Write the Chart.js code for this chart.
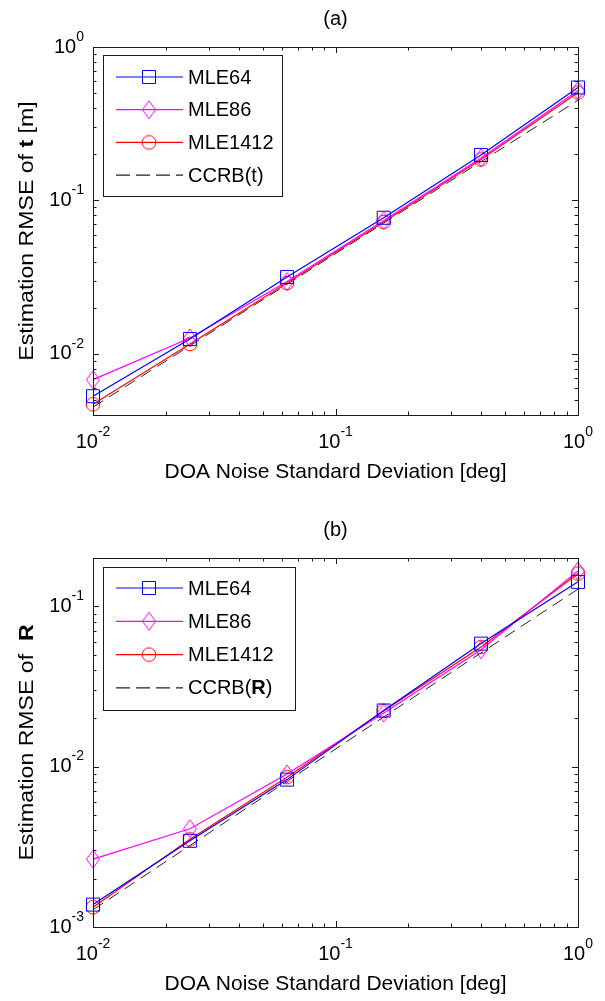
<!DOCTYPE html>
<html><head><meta charset="utf-8">
<script src="https://cdn.jsdelivr.net/npm/chart.js@4.4.0/dist/chart.umd.min.js"></script>
<style>
html,body{margin:0;padding:0;background:#fff;}
#wrap{position:relative;width:605px;height:1001px;background:#fff;}
canvas{position:absolute;left:0;}
</style></head><body>
<div id="wrap">
<canvas id="ca" width="605" height="500" style="top:0px"></canvas>
<canvas id="cb" width="605" height="501" style="top:500px"></canvas>
</div>
<script>
// ---- data ----
const sigma = [0.01, 0.0251, 0.0631, 0.158, 0.398, 1];
const seriesNames = ['MLE64', 'MLE86', 'MLE1412'];
const xMajorTicks = [0.01, 0.1, 1];
const xTickExp = ['-2', '-1', '0'];

const a_MLE64   = [0.0053, 0.0125, 0.0317, 0.0772, 0.198, 0.545];
const a_MLE86   = [0.0068, 0.0127, 0.0296, 0.0740, 0.189, 0.520];
const a_MLE1412 = [0.0047, 0.0116, 0.0290, 0.0725, 0.185, 0.505];
const a_CCRB    = [0.0045, 0.0113, 0.0284, 0.0712, 0.179, 0.450];
const a_yMajorTicks = [1, 0.1, 0.01];
const a_yTickExp = ['0', '-1', '-2'];

const b_MLE64   = [0.00138, 0.00345, 0.0083, 0.0224, 0.0585, 0.142];
const b_MLE86   = [0.00265, 0.00410, 0.0090, 0.0216, 0.0535, 0.166];
const b_MLE1412 = [0.00133, 0.00352, 0.0086, 0.0223, 0.0558, 0.160];
const b_CCRB    = [0.00128, 0.00322, 0.0081, 0.0204, 0.0512, 0.128];
const b_yMajorTicks = [0.1, 0.01, 0.001];
const b_yTickExp = ['-1', '-2', '-3'];

const xTitle = 'DOA Noise Standard Deviation [deg]';

// ---- styles ----
const FONT = '"Liberation Sans", Arial, sans-serif';
const COLORS = { MLE64: '#0000ff', MLE86: '#ff00ff', MLE1412: '#ff0000', CCRB: '#222222' };

function markerCanvas(kind, color) {
  const c = document.createElement('canvas');
  c.width = 20; c.height = 22;
  const g = c.getContext('2d');
  g.strokeStyle = color; g.lineWidth = 1;
  g.beginPath();
  if (kind === 'square') g.rect(3.5, 4.5, 13, 13);
  else if (kind === 'circle') g.arc(10, 11, 6.8, 0, Math.PI * 2);
  else { g.moveTo(10, 2); g.lineTo(16.5, 11); g.lineTo(10, 20); g.lineTo(3.5, 11); g.closePath(); }
  g.stroke();
  return c;
}
const MARKERS = {
  MLE64: markerCanvas('square', COLORS.MLE64),
  MLE86: markerCanvas('diamond', COLORS.MLE86),
  MLE1412: markerCanvas('circle', COLORS.MLE1412)
};

function pts(vals) { return sigma.map((s, i) => ({ x: s, y: vals[i] })); }

function datasets(m64, m86, m1412, ccrb) {
  const mk = (name, vals) => ({
    label: name, data: pts(vals), borderColor: COLORS[name], backgroundColor: 'transparent',
    borderWidth: 1.2, pointStyle: MARKERS[name], pointRadius: 7, pointHoverRadius: 7,
    tension: 0, fill: false, clip: false
  });
  return [
    mk('MLE64', m64), mk('MLE86', m86), mk('MLE1412', m1412),
    { label: 'CCRB', data: pts(ccrb), borderColor: COLORS.CCRB, borderWidth: 1,
      borderDash: [12, 7], pointRadius: 0, tension: 0, fill: false, clip: false }
  ];
}

function drawPow(ctx, e, x, y, align) {
  const baseFont = '20px ' + FONT, expFont = '14px ' + FONT;
  ctx.font = baseFont; const wb = ctx.measureText('10').width;
  ctx.font = expFont; const we = ctx.measureText(e).width;
  const left = align === 'right' ? x - wb - we : x - (wb + we) / 2;
  ctx.textAlign = 'left'; ctx.textBaseline = 'middle'; ctx.fillStyle = '#000';
  ctx.font = baseFont; ctx.fillText('10', left, y);
  ctx.font = expFont; ctx.fillText(e, left + wb, y - 10);
}

function drawRuns(ctx, runs) {
  let x = 0;
  runs.forEach(r => {
    ctx.font = (r.bold ? 'bold ' : '') + r.size + 'px ' + FONT;
    ctx.fillText(r.t, x, 0);
    x += ctx.measureText(r.t).width;
  });
  return x;
}
function runsWidth(ctx, runs) {
  let w = 0;
  runs.forEach(r => { ctx.font = (r.bold ? 'bold ' : '') + r.size + 'px ' + FONT; w += ctx.measureText(r.t).width; });
  return w;
}

function decoPlugin(cfg) {
  return {
    id: 'deco',
    afterDatasetsDraw(chart) {
      const ctx = chart.ctx, a = chart.chartArea, xs = chart.scales.x, ys = chart.scales.y;
      ctx.save();
      ctx.strokeStyle = '#1a1a1a'; ctx.lineWidth = 1;
      const majL = 6, minL = 3.5;
      function logTicks(lo, hi) {
        const out = [];
        for (let k = Math.floor(Math.log10(lo)) - 1; k <= Math.ceil(Math.log10(hi)); k++) {
          for (let m = 1; m <= 9; m++) {
            const v = m * Math.pow(10, k);
            if (v >= lo * 0.9999 && v <= hi * 1.0001) out.push({ v, major: m === 1 });
          }
        }
        return out;
      }
      ctx.beginPath();
      logTicks(xs.min, xs.max).forEach(t => {
        const px = Math.round(xs.getPixelForValue(t.v)) + 0.5, L = t.major ? majL : minL;
        ctx.moveTo(px, a.bottom); ctx.lineTo(px, a.bottom - L);
        ctx.moveTo(px, a.top); ctx.lineTo(px, a.top + L);
      });
      logTicks(ys.min, ys.max).forEach(t => {
        const py = Math.round(ys.getPixelForValue(t.v)) + 0.5, L = t.major ? majL : minL;
        ctx.moveTo(a.left, py); ctx.lineTo(a.left + L, py);
        ctx.moveTo(a.right, py); ctx.lineTo(a.right - L, py);
      });
      ctx.stroke();
      ctx.strokeRect(Math.round(a.left) + 0.5, Math.round(a.top) + 0.5,
        Math.round(a.right - a.left), Math.round(a.bottom - a.top));
      // tick labels
      xMajorTicks.forEach((v, i) => drawPow(ctx, xTickExp[i], xs.getPixelForValue(v), a.bottom + 27, 'center'));
      cfg.yMajor.forEach((v, i) => drawPow(ctx, cfg.yExp[i], a.left - 9, ys.getPixelForValue(v), 'right'));
      // x title
      ctx.fillStyle = '#000'; ctx.textAlign = 'center'; ctx.textBaseline = 'middle';
      ctx.font = '21px ' + FONT;
      ctx.fillText(xTitle, (a.left + a.right) / 2, a.bottom + 57);
      // panel title
      ctx.font = '20px ' + FONT;
      ctx.fillText(cfg.panel, (a.left + a.right) / 2, a.top - 28);
      // y title (rotated)
      ctx.save();
      ctx.textAlign = 'left'; ctx.textBaseline = 'middle';
      const w = runsWidth(ctx, cfg.yTitle);
      ctx.translate(27, (a.top + a.bottom) / 2 + cfg.yTitleShift);
      ctx.rotate(-Math.PI / 2);
      ctx.scale(cfg.yTitleStretch, 1);
      ctx.translate(-w / 2, 0);
      drawRuns(ctx, cfg.yTitle);
      ctx.restore();
      // legend
      const L = cfg.legend;
      const bx = a.left + 10, by = a.top + L.top;
      ctx.fillStyle = '#fff';
      ctx.fillRect(bx, by, L.w, L.h);
      ctx.strokeStyle = '#1a1a1a';
      ctx.strokeRect(Math.round(bx) + 0.5, Math.round(by) + 0.5, L.w, L.h);
      const rows = ['MLE64', 'MLE86', 'MLE1412', 'CCRB'];
      rows.forEach((name, i) => {
        const ry = by + L.first + i * L.gap;
        ctx.save();
        ctx.strokeStyle = COLORS[name]; ctx.lineWidth = 1.2;
        if (name === 'CCRB') ctx.setLineDash([14, 6]);
        ctx.beginPath(); ctx.moveTo(bx + 13, ry); ctx.lineTo(bx + 80, ry); ctx.stroke();
        ctx.restore();
        if (MARKERS[name]) ctx.drawImage(MARKERS[name], bx + 46 - 10, ry - 11);
        ctx.save();
        ctx.fillStyle = '#000'; ctx.textAlign = 'left'; ctx.textBaseline = 'middle';
        ctx.translate(bx + 85, ry + 1);
        drawRuns(ctx, name === 'CCRB' ? cfg.ccrbLabel : [{ t: name, size: 20 }]);
        ctx.restore();
      });
      ctx.restore();
    }
  };
}

function makeChart(id, yMin, yMax, pad, dsets, cfg) {
  return new Chart(document.getElementById(id), {
    type: 'line',
    data: { datasets: dsets },
    options: {
      responsive: false, animation: false, events: [],
      layout: { padding: pad },
      plugins: { legend: { display: false }, tooltip: { enabled: false }, title: { display: false } },
      scales: {
        x: { type: 'logarithmic', min: 0.01, max: 1, display: false },
        y: { type: 'logarithmic', min: yMin, max: yMax, display: false }
      }
    },
    plugins: [decoPlugin(cfg)]
  });
}

makeChart('ca', 0.004, 1, { left: 93, right: 27, top: 47, bottom: 85 },
  datasets(a_MLE64, a_MLE86, a_MLE1412, a_CCRB),
  { panel: '(a)', yMajor: a_yMajorTicks, yExp: a_yTickExp,
    yTitle: [{ t: 'Estimation RMSE of ', size: 21 }, { t: 't', size: 21, bold: true }, { t: ' [m]', size: 21 }],
    yTitleStretch: 1.1, yTitleShift: 0,
    ccrbLabel: [{ t: 'CCRB(t)', size: 20 }],
    legend: { top: 8, w: 179, h: 141, first: 22, gap: 32.7 } });

makeChart('cb', 0.001, 0.2, { left: 93, right: 27, top: 58, bottom: 74 },
  datasets(b_MLE64, b_MLE86, b_MLE1412, b_CCRB),
  { panel: '(b)', yMajor: b_yMajorTicks, yExp: b_yTickExp,
    yTitle: [{ t: 'Estimation RMSE of  ', size: 21 }, { t: 'R', size: 21, bold: true }],
    yTitleStretch: 1.1, yTitleShift: 0,
    ccrbLabel: [{ t: 'CCRB(', size: 20 }, { t: 'R', size: 20, bold: true }, { t: ')', size: 20 }],
    legend: { top: 9, w: 192, h: 143, first: 21, gap: 33.3 } });
</script>
</body></html>
